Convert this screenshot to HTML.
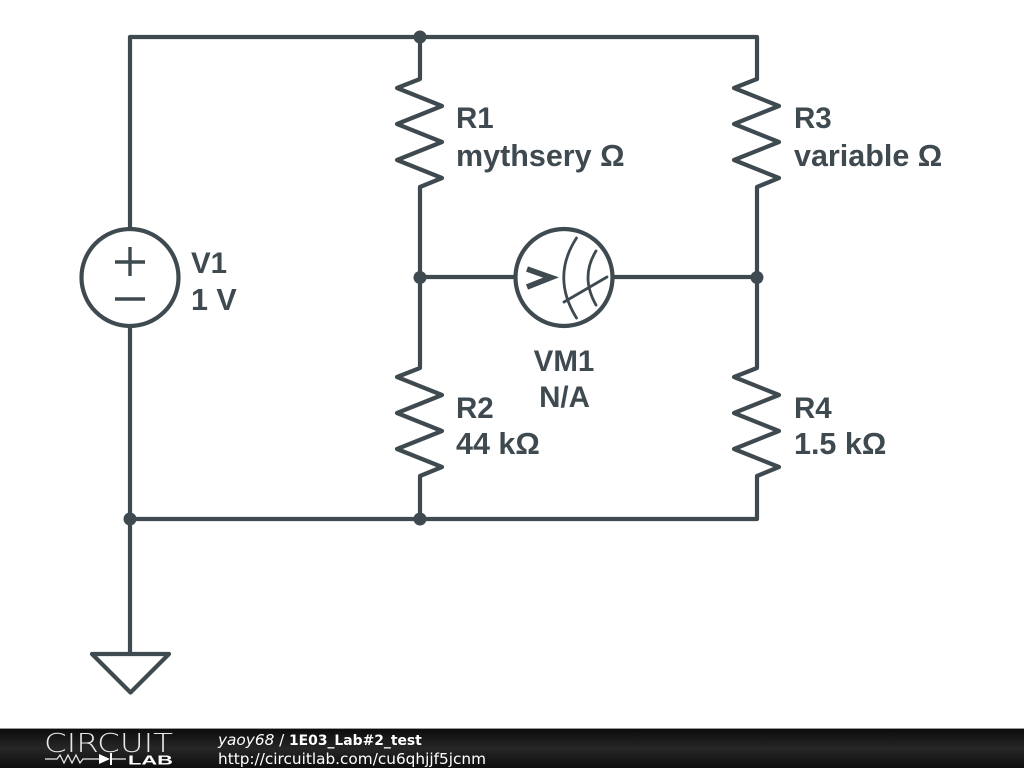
<!DOCTYPE html>
<html><head><meta charset="utf-8"><style>
html,body{margin:0;padding:0;background:#fff}
svg{display:block}
.l{font-family:"Liberation Sans",sans-serif;font-weight:bold;font-size:30.500px;fill:#3f4a50}
.s{font-size:29.500px}
.f{font-family:"DejaVu Sans",sans-serif;font-size:15.300px;fill:#fff}
</style></head><body>
<svg width="1024" height="768" viewBox="0 0 1024 768" xmlns="http://www.w3.org/2000/svg">
<defs>
<linearGradient id="g" x1="0" y1="0" x2="0" y2="1"><stop offset="0" stop-color="#0c0c0c"/><stop offset="0.5" stop-color="#262626"/><stop offset="1" stop-color="#0e0e0e"/></linearGradient>
</defs>
<rect width="1024" height="768" fill="#fff"/>
<g fill="none" stroke="#3f4a50" stroke-width="4.2" stroke-linejoin="round" stroke-linecap="round">
<path d="M130 229V37H757V79"/>
<path d="M130 327V654"/>
<path d="M130 519H757V477"/>
<path d="M92 654H169L130.500 692.500Z"/>
<path d="M420 37V79L397 88 442 106 397 124 442 142 397 160 442 178 420 187V277"/>
<path d="M420 277V368L397 377 442 395 397 413 442 431 397 449 442 467 420 476V519"/>
<path d="M757 79L734 88 779 106 734 124 779 142 734 160 779 178 757 187V277"/>
<path d="M757 277V368L734 377 779 395 734 413 779 431 734 449 779 467 757 476"/>
<path d="M420 277H515M613 277H757"/>
<circle cx="130" cy="277.500" r="48.500"/>
<circle cx="564" cy="277.500" r="48.500"/>
<path d="M115 262H145M130 247V276M115 299H145" stroke-width="3.400" stroke-linecap="butt"/>
<path d="M527 269L551 277.500 527 287" stroke-width="5.600" stroke-linecap="butt" stroke-linejoin="miter"/>
<path d="M576.500 238Q551 277 576.500 318" stroke-width="2.800"/>
<path d="M596 251Q580 277 596 305" stroke-width="2.800"/>
<path d="M564 302L607 277" stroke-width="2.800"/>
</g>
<g fill="#3f4a50">
<circle cx="420" cy="37" r="6.500"/>
<circle cx="420" cy="277.500" r="6.500"/>
<circle cx="757" cy="277.500" r="6.500"/>
<circle cx="130" cy="519" r="6.500"/>
<circle cx="420" cy="519" r="6.500"/>
</g>
<text class="l s" x="456" y="128">R1</text>
<text class="l" x="456" y="166">mythsery Ω</text>
<text class="l s" x="794" y="128">R3</text>
<text class="l" x="794" y="166">variable Ω</text>
<text class="l s" x="191" y="273">V1</text>
<text class="l" x="191" y="310">1 V</text>
<text class="l s" x="564" y="371" text-anchor="middle">VM1</text>
<text class="l s" x="564.500" y="407" text-anchor="middle">N/A</text>
<text class="l s" x="456" y="418">R2</text>
<text class="l" x="456" y="454">44 kΩ</text>
<text class="l s" x="794" y="418">R4</text>
<text class="l" x="794" y="454">1.5 kΩ</text>
<rect x="0" y="729" width="1024" height="39" fill="url(#g)"/>
<rect x="0" y="728" width="1024" height="1" fill="#999"/>
<text x="44" y="752" font-family="DejaVu Sans,sans-serif" font-weight="200" font-size="25.500" fill="#e8e8e8" textLength="129" lengthAdjust="spacingAndGlyphs">CIRCUIT</text>
<path d="M45 759H57L60 755 64 763 68 755 72 763 76 755 80 763 83 759H99M110 759H126" fill="none" stroke="#eee" stroke-width="1.200"/>
<path d="M99 754L110 759 99 764Z" fill="#fff"/>
<rect x="110" y="753" width="2" height="12" fill="#fff"/>
<text x="128" y="764.500" font-family="Liberation Sans,sans-serif" font-weight="bold" font-size="13" fill="#fff" textLength="45" lengthAdjust="spacingAndGlyphs">LAB</text>
<text class="f" x="218" y="745"><tspan font-style="italic">yaoy68</tspan> / <tspan x="289" font-weight="bold" font-size="13.900">1E03_Lab#2_test</tspan></text>
<text class="f" x="218" y="764">http://circuitlab.com/cu6qhjjf5jcnm</text>
</svg>
</body></html>
